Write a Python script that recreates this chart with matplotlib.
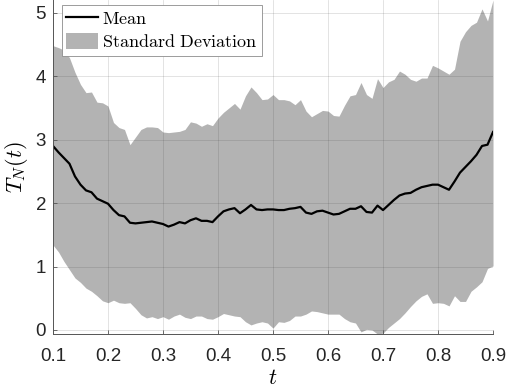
import numpy as np
import matplotlib
matplotlib.use('Agg')
import matplotlib.pyplot as plt

plt.rcParams['mathtext.fontset'] = 'cm'
plt.rcParams['font.family'] = 'Liberation Sans'

t = np.linspace(0.1, 0.9, 81)

mean_T = [2.90, 2.80, 2.71, 2.62, 2.42, 2.29, 2.20, 2.17, 2.07, 2.03,
          1.99, 1.89, 1.81, 1.79, 1.69, 1.68, 1.69, 1.70, 1.71, 1.69,
          1.67, 1.63, 1.66, 1.70, 1.68, 1.73, 1.76, 1.72, 1.72, 1.70,
          1.79, 1.87, 1.90, 1.92, 1.84, 1.90, 1.97, 1.90, 1.89, 1.90,
          1.90, 1.89, 1.89, 1.91, 1.92, 1.94, 1.85, 1.83, 1.87, 1.88,
          1.85, 1.82, 1.83, 1.87, 1.91, 1.91, 1.95, 1.86, 1.85, 1.96,
          1.89, 1.97, 2.05, 2.12, 2.15, 2.16, 2.21, 2.25, 2.27, 2.29,
          2.29, 2.25, 2.21, 2.34, 2.48, 2.57, 2.66, 2.76, 2.90, 2.92,
          3.12]

upper_T = [4.48, 4.45, 4.41, 4.29, 4.06, 3.87, 3.74, 3.75, 3.59, 3.58,
           3.53, 3.27, 3.19, 3.16, 2.92, 3.04, 3.16, 3.20, 3.20, 3.19,
           3.12, 3.11, 3.12, 3.13, 3.16, 3.28, 3.26, 3.21, 3.25, 3.22,
           3.34, 3.43, 3.50, 3.57, 3.48, 3.69, 3.83, 3.74, 3.63, 3.64,
           3.71, 3.63, 3.63, 3.61, 3.55, 3.63, 3.45, 3.36, 3.41, 3.46,
           3.45, 3.38, 3.37, 3.54, 3.69, 3.71, 3.90, 3.71, 3.65, 3.96,
           3.82, 3.91, 3.95, 4.08, 4.03, 3.95, 3.92, 3.97, 3.97, 4.17,
           4.13, 4.08, 4.03, 4.11, 4.55, 4.70, 4.80, 4.85, 5.06, 4.87,
           5.20]

lower_T = [1.34, 1.23, 1.08, 0.95, 0.82, 0.75, 0.66, 0.61, 0.54, 0.46,
           0.43, 0.47, 0.43, 0.42, 0.43, 0.34, 0.24, 0.19, 0.21, 0.18,
           0.21, 0.17, 0.22, 0.25, 0.20, 0.18, 0.22, 0.22, 0.18, 0.17,
           0.21, 0.26, 0.24, 0.22, 0.21, 0.13, 0.08, 0.11, 0.13, 0.11,
           0.03, 0.13, 0.12, 0.15, 0.22, 0.22, 0.25, 0.30, 0.29, 0.27,
           0.25, 0.25, 0.25, 0.18, 0.13, 0.11, -0.03, 0.01, 0.00, -0.063,
           -0.05, 0.04, 0.11, 0.18, 0.27, 0.37, 0.46, 0.53, 0.57, 0.42,
           0.43, 0.42, 0.38, 0.54, 0.45, 0.45, 0.61, 0.68, 0.76, 0.97,
           1.01]

fig = plt.figure(figsize=(5.08, 3.9), dpi=100)
ax = fig.add_axes([0.1043, 0.1436, 0.8662, 0.8564])

ax.fill_between(t, lower_T, upper_T, color='#b3b3b3', lw=0, zorder=1,
                label=r'$\mathrm{Standard\ Deviation}$')
ax.plot(t, mean_T, color='black', lw=1.6, zorder=4, label=r'$\mathrm{Mean}$')

# tight limits like MATLAB's axis tight
ax.set_xlim(0.1, 0.9)
ax.set_ylim(min(lower_T), max(upper_T))
ax.set_xticks(np.arange(0.1, 0.91, 0.1))
ax.set_yticks([0, 1, 2, 3, 4, 5])
ax.set_xticklabels(['0.1', '0.2', '0.3', '0.4', '0.5', '0.6', '0.7', '0.8', '0.9'])

ax.grid(True, color=(0.15, 0.15, 0.15), alpha=0.15, lw=0.6, zorder=3)
ax.set_axisbelow(False)

for s in ['top', 'right']:
    ax.spines[s].set_visible(False)
for s in ['left', 'bottom']:
    ax.spines[s].set_color('#555555')
    ax.spines[s].set_linewidth(0.7)
    ax.spines[s].set_zorder(5)

ax.tick_params(direction='in', length=3, width=0.6, color='#555555',
               labelsize=13.5, labelcolor='#262626')
ax.tick_params(axis='x', pad=10)
ax.tick_params(axis='y', pad=5)

ax.set_xlabel(r'$t$', fontsize=16, labelpad=2)
ax.set_ylabel(r'$T_N(t)$', fontsize=16, labelpad=4)

handles, labels = ax.get_legend_handles_labels()
leg = ax.legend(handles[::-1], labels[::-1], loc='upper left',
                bbox_to_anchor=(0.02, 0.985), borderaxespad=0,
                fontsize=13, fancybox=False, framealpha=1,
                edgecolor='#8c8c8c', handlelength=1.75, handleheight=1.0,
                handletextpad=0.2, borderpad=0.25, labelspacing=0.3)
leg.get_frame().set_linewidth(0.6)
leg.set_zorder(10)

fig.savefig('out.png', dpi=100)
